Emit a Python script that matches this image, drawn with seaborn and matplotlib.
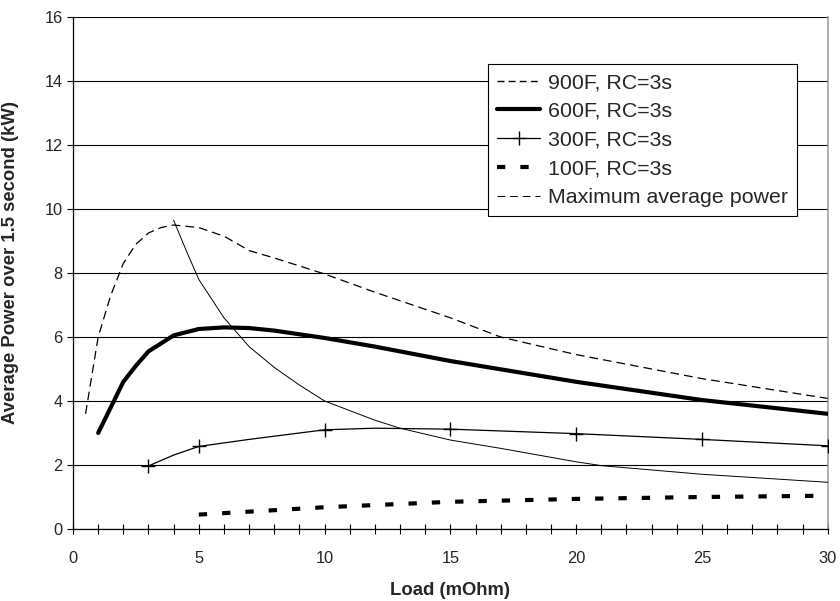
import matplotlib
matplotlib.use("Agg")
import matplotlib.pyplot as plt
import seaborn as sns
import pandas as pd
from matplotlib.lines import Line2D

# ---- data ----
load_900 = [0.5, 1, 1.5, 2, 2.5, 3, 3.5, 4, 5, 6, 6.5, 7, 8, 9, 10, 12, 15, 17, 20, 25, 30]
p_900 = [3.6, 6.0, 7.3, 8.3, 8.9, 9.25, 9.42, 9.5, 9.42, 9.15, 8.93, 8.7, 8.47, 8.22, 7.97, 7.4, 6.6, 6.0, 5.45, 4.7, 4.08]

load_600 = [1, 1.5, 2, 2.5, 3, 4, 5, 6, 7, 8, 10, 12, 15, 20, 25, 30]
p_600 = [3.0, 3.8, 4.6, 5.1, 5.55, 6.05, 6.25, 6.3, 6.28, 6.2, 5.97, 5.7, 5.25, 4.6, 4.03, 3.6]

load_300 = [3, 4, 5, 7, 10, 12, 15, 20, 25, 30]
p_300 = [1.97, 2.31, 2.58, 2.8, 3.1, 3.15, 3.12, 2.98, 2.8, 2.6]
marks_300 = [3, 5, 10, 15, 20, 25, 30]

load_100 = [5, 10, 15, 20, 25, 30]
p_100 = [0.45, 0.68, 0.85, 0.94, 1.0, 1.04]

load_max = [4, 4.5, 5, 6, 7, 8, 9, 10, 12, 13, 15, 17, 20, 21, 25, 30]
p_max = [9.65, 8.7, 7.8, 6.6, 5.7, 5.05, 4.5, 4.0, 3.4, 3.15, 2.78, 2.52, 2.1, 1.98, 1.71, 1.46]

labels = ["900F, RC=3s", "600F, RC=3s", "300F, RC=3s", "100F, RC=3s", "Maximum average power"]
y_ticks = [0, 2, 4, 6, 8, 10, 12, 14, 16]
x_ticks = [0, 5, 10, 15, 20, 25, 30]

sns.set_style("white")
plt.rcParams["font.family"] = ["Liberation Sans", "DejaVu Sans"]

fig = plt.figure(figsize=(8.4, 6.01), dpi=100)
ax = fig.add_axes([73 / 840, 1 - 529 / 601, (827.7 - 73) / 840, (529 - 17) / 601])

df900 = pd.DataFrame({"x": load_900, "y": p_900})
df600 = pd.DataFrame({"x": load_600, "y": p_600})
df300 = pd.DataFrame({"x": load_300, "y": p_300})
df100 = pd.DataFrame({"x": load_100, "y": p_100})
dfmax = pd.DataFrame({"x": load_max, "y": p_max})

sns.lineplot(data=df900, x="x", y="y", ax=ax, color="black", lw=0.9, zorder=3)
ax.lines[-1].set_dashes((7, 4))
sns.lineplot(data=df600, x="x", y="y", ax=ax, color="black", lw=3.0, zorder=3)
sns.lineplot(data=df300, x="x", y="y", ax=ax, color="black", lw=0.9, zorder=3)
l300 = ax.lines[-1]
l300.set_marker("+")
l300.set_markersize(10)
l300.set_markeredgewidth(1.0)
l300.set_markeredgecolor("black")
l300.set_markerfacecolor("black")
l300.set_markevery([load_300.index(v) for v in marks_300])
sns.lineplot(data=df100, x="x", y="y", ax=ax, color="black", lw=3.0, zorder=3)
ax.lines[-1].set_dashes((2.0, 3.6))
sns.lineplot(data=dfmax, x="x", y="y", ax=ax, color="black", lw=0.7, zorder=3)

ax.set_xlim(0, 30)
ax.set_ylim(0, 16)
ax.set_yticks(y_ticks)
ax.set_xticks(x_ticks)
ax.set_xticks(range(0, 31), minor=True)
ax.tick_params(axis="y", which="major", direction="out", length=4.5, width=0.8,
               color="black", labelsize=11.8, pad=3, left=True)
ax.tick_params(axis="x", which="both", direction="inout", length=7, width=0.8,
               color="black", labelsize=11.8, pad=12, bottom=True)
ax.grid(axis="y", color="black", lw=0.8, zorder=1)
ax.set_axisbelow(True)
for s in ["left", "bottom"]:
    ax.spines[s].set_color("black")
    ax.spines[s].set_linewidth(0.9)
ax.spines["right"].set_color("#a0a0a0")
ax.spines["right"].set_linewidth(1.2)
ax.spines["top"].set_visible(False)

ax.set_xlabel("Load (mOhm)", fontsize=13.3, fontweight="bold", labelpad=12)
ax.set_ylabel("Average Power over 1.5 second (kW)", fontsize=13.3, fontweight="bold")
ax.yaxis.set_label_coords(-0.072, 0.52)

h300 = Line2D([0, 0.5, 1], [0, 0, 0], color="black", lw=0.9, marker="+", markersize=10,
              markevery=[1], markeredgewidth=1.0, markeredgecolor="black")
handles = [
    Line2D([], [], color="black", lw=1.0, dashes=(5, 3)),
    Line2D([], [], color="black", lw=3.0),
    h300,
    Line2D([], [], color="black", lw=3.0, dashes=(2.0, 3.6)),
    Line2D([], [], color="black", lw=0.7, dashes=(8, 5)),
]
leg = ax.legend(handles, labels, loc="upper right", bbox_to_anchor=(0.9593, 0.908),
                borderaxespad=0, frameon=True, fancybox=False, fontsize=15.4,
                handlelength=2.0, handletextpad=0.37, labelspacing=0.46,
                borderpad=0.42, framealpha=1)
leg.get_frame().set_edgecolor("black")
leg.get_frame().set_linewidth(0.8)
leg.set_zorder(5)

fig.savefig("out.png", dpi=100)
